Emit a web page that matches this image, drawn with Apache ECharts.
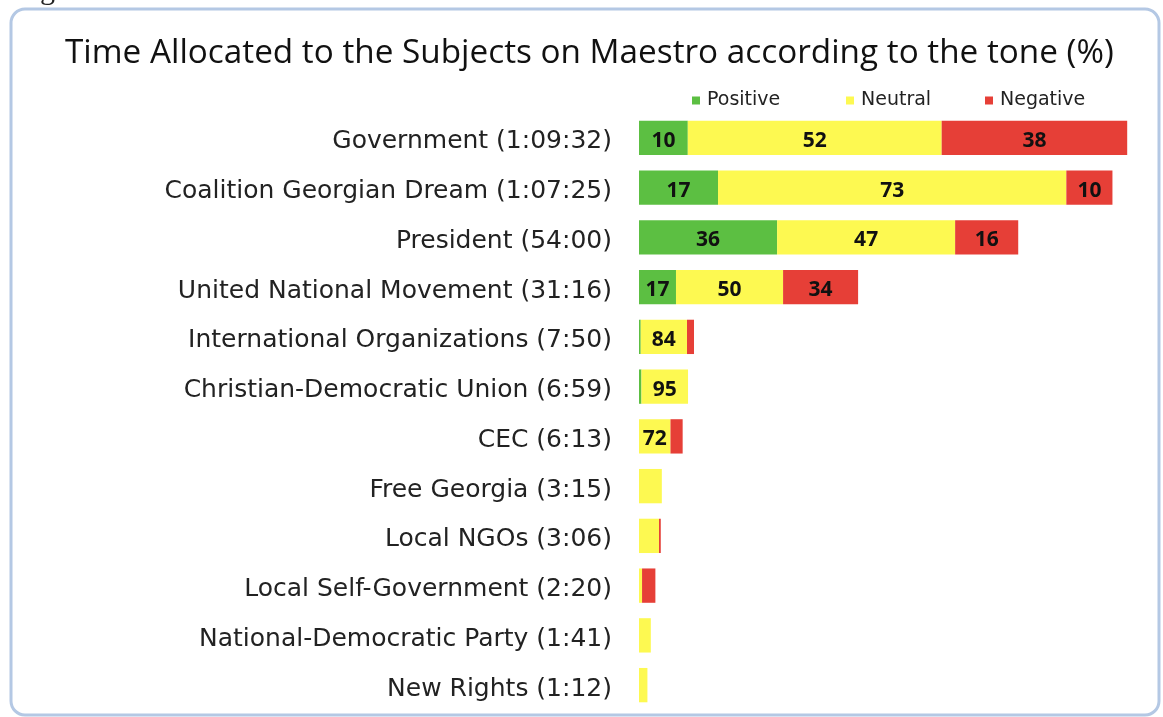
<!DOCTYPE html>
<html>
<head>
<meta charset="utf-8">
<script src="https://cdn.jsdelivr.net/npm/echarts@6/dist/echarts.min.js"></script>
<style>
  html, body { margin: 0; padding: 0; background: #fff; }
  #chart { width: 1163px; height: 717px; }
</style>
</head>
<body>
<div id="chart"></div>
<script>
// 类目（自上而下）
const categories = [
  'Government (1:09:32)',
  'Coalition Georgian Dream (1:07:25)',
  'President (54:00)',
  'United National Movement (31:16)',
  'International Organizations (7:50)',
  'Christian-Democratic Union (6:59)',
  'CEC (6:13)',
  'Free Georgia (3:15)',
  'Local NGOs (3:06)',
  'Local Self-Government (2:20)',
  'National-Democratic Party (1:41)',
  'New Rights (1:12)'
]
// 各语气所占时长（秒）
const positiveSec = [417, 675, 1180, 316, 15, 21, 0, 0, 0, 0, 0, 0]
const neutralSec = [2169, 2976, 1521, 915, 395, 398, 269, 195, 171, 26, 101, 72]
const negativeSec = [1585, 394, 539, 641, 60, 0, 104, 0, 15, 114, 0, 0]
// 条形内显示的百分比
const positiveLabel = ['10', '17', '36', '17', '', '', '', '', '', '', '', '']
const neutralLabel = ['52', '73', '47', '50', '84', '95', '72', '', '', '', '', '']
const negativeLabel = ['38', '10', '16', '34', '', '', '', '', '', '', '', '']

const colorList = ['#5cbf42', '#fdf951', '#e63f37']
const titleFont = '"Open Sans", Lato, sans-serif'
const axisFont = '"DejaVu Sans", "Liberation Sans", sans-serif'

const chart = echarts.init(document.getElementById('chart'))

const makeSeries = (name, data, labels) => ({
  name,
  type: 'bar',
  stack: 'tone',
  data,
  barCategoryGap: '31%',
  label: {
    show: true,
    position: 'inside',
    offset: [0, 3],
    fontFamily: titleFont,
    fontWeight: 'bold',
    fontSize: 21,
    color: '#111',
    formatter: (p) => labels[p.dataIndex]
  }
})

const legendBase = {
  icon: 'rect',
  itemWidth: 8,
  itemHeight: 8,
  itemGap: 0,
  padding: 0,
  top: 91,
  textStyle: { fontFamily: axisFont, fontSize: 19, color: '#222', padding: [0, 0, 0, 2] }
}

const option = {
  animation: false,
  color: colorList,
  title: {
    text: 'Time Allocated to the Subjects on Maestro according to the tone (%)',
    left: 60,
    top: 32,
    textStyle: {
      fontFamily: titleFont,
      fontWeight: 'normal',
      fontSize: 33.3,
      color: '#111'
    }
  },
  legend: [
    { ...legendBase, left: 692, data: ['Positive'] },
    { ...legendBase, left: 846, data: ['Neutral'] },
    { ...legendBase, left: 985, data: ['Negative'] }
  ],
  graphic: [
    {
      type: 'rect',
      shape: { x: 11, y: 9, width: 1148, height: 706, r: 14 },
      style: { fill: 'none', stroke: '#b4c8e4', lineWidth: 3 },
      silent: true
    },
    {
      type: 'text',
      left: 40,
      top: -24,
      style: { text: 'g', font: '30px "Liberation Serif", serif', fill: '#222' },
      silent: true
    }
  ],
  grid: {
    left: 639,
    right: 9,
    top: 113,
    bottom: 7
  },
  xAxis: {
    type: 'value',
    min: 0,
    max: 4400,
    show: false
  },
  yAxis: {
    type: 'category',
    inverse: true,
    data: categories,
    axisLine: { show: false },
    axisTick: { show: false },
    axisLabel: {
      margin: 27,
      formatter: (v) => '{a|' + v + '}',
      rich: {
        a: {
          fontFamily: axisFont,
          fontSize: 25,
          color: '#222',
          padding: [8, 0, 0, 0]
        }
      }
    }
  },
  series: [
    makeSeries('Positive', positiveSec, positiveLabel),
    makeSeries('Neutral', neutralSec, neutralLabel),
    makeSeries('Negative', negativeSec, negativeLabel)
  ]
}

chart.setOption(option)
</script>
</body>
</html>
